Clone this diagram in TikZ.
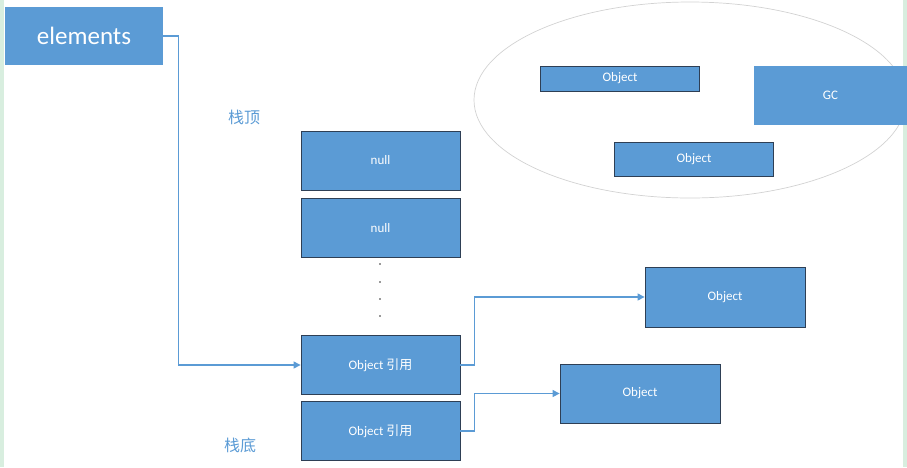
\documentclass[tikz,border=0pt]{standalone}
\usepackage{fontspec}
\setmainfont{Carlito}
\newfontfamily\cjk{Noto Sans CJK SC}
\usepackage{xcolor}
\usepackage{tikz}
\usetikzlibrary{arrows.meta}
\definecolor{boxblue}{HTML}{5B9BD5}
\definecolor{boxedge}{HTML}{2E3F55}
\definecolor{linkblue}{HTML}{5B9BD5}
\definecolor{sidegreen}{HTML}{D8EEDF}
\tikzset{
  cell/.style={fill=boxblue,draw=boxedge,line width=0.8pt,text=white,
    minimum width=159pt,minimum height=59pt,inner sep=0pt,font=\fontsize{13}{15}\selectfont},
  plain/.style={fill=boxblue,text=white,inner sep=0pt},
  link/.style={draw=linkblue,line width=1.1pt,-{Triangle[length=7pt,width=7pt]}},
  tag/.style={text=linkblue,font=\fontsize{16}{18}\selectfont\cjk}
}

\begin{document}
\begin{tikzpicture}[x=1pt,y=-1pt]
    \useasboundingbox (0,0) rectangle (907,467);
    \fill[sidegreen] (0,0) rectangle (4,467);
    \fill[sidegreen] (903,0) rectangle (907,467);
    % heap
    \begin{scope}
      \clip (0,0) rectangle (907,467);
      \draw[gray!35,line width=0.7pt] (690,100) ellipse [x radius=216pt,y radius=98pt];
      \node[plain,minimum width=153pt,minimum height=59pt,font=\fontsize{13}{15}\selectfont] (gc) at (830.5,95.5) {GC};
    \end{scope}
    \node[cell,minimum height=25pt] (heapA) at (620,78.5) {Object};
    \node[cell,minimum height=34pt] (heapB) at (694,159) {Object};
    % stack
    \node[plain,minimum width=158pt,minimum height=58pt,font=\fontsize{25}{28}\selectfont] (elements) at (84,36) {elements};
    \node[cell] (top1) at (380.5,160.5) {null};
    \node[cell] (top2) at (380.5,228) {null};
    \foreach \y in {264,282,299,316} {
      \fill[black!80] (380,\y) circle (0.8pt);
    }
    \node[cell] (ref1) at (380.5,365) {Object {\cjk 引用}};
    \node[cell] (ref2) at (380.5,431) {Object {\cjk 引用}};
    \node[tag] (stacktop) at (244,117) {栈顶};
    \node[tag] (stackbot) at (240,445) {栈底};
    % referenced objects
    \node[cell,minimum width=160pt,minimum height=60pt] (objA) at (725,297) {Object};
    \node[cell,minimum width=160pt,minimum height=59pt] (objB) at (640,393.5) {Object};
    \draw[link] (elements.east) -- ++(15,0) |- (ref1.west);
    \draw[link] (ref1.east) -- ++(14,0) |- (objA.west);
    \draw[link] (ref2.east) -- ++(14,0) |- (objB.west);
  \end{tikzpicture}
\end{document}
